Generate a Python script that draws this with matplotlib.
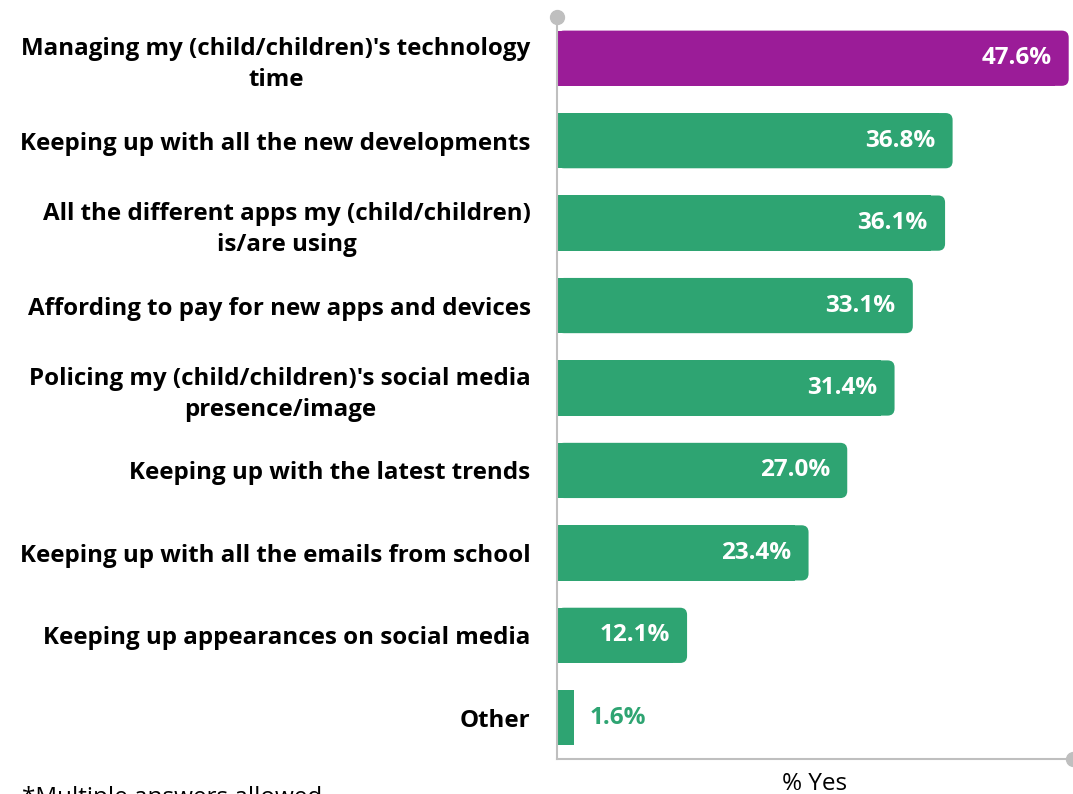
import matplotlib.pyplot as plt
from matplotlib.patches import FancyBboxPatch, Rectangle

plt.rcParams['font.family'] = ['Open Sans', 'DejaVu Sans']

categories = [
    "Managing my (child/children)'s technology\ntime",
    "Keeping up with all the new developments",
    "All the different apps my (child/children)\nis/are using",
    "Affording to pay for new apps and devices",
    "Policing my (child/children)'s social media\npresence/image",
    "Keeping up with the latest trends",
    "Keeping up with all the emails from school",
    "Keeping up appearances on social media",
    "Other",
]
values = [47.6, 36.8, 36.1, 33.1, 31.4, 27.0, 23.4, 12.1, 1.6]
colors = ["#9B1C98"] + ["#2EA472"] * 8

fig = plt.figure(figsize=(10.73, 7.94), dpi=100)
ax = fig.add_axes([557 / 1073, 35 / 794, 516 / 1073, 742 / 794])
ax.set_xlim(0, 48)
ax.set_ylim(8.5, -0.5)

bar_h = 0.67
x_per_px = 48 / 516
y_per_px = 9 / 742
rad = 7 * x_per_px
for i, (v, c) in enumerate(zip(values, colors)):
    # square left part + rounded right end
    ax.add_patch(Rectangle((0, i - bar_h / 2), max(v - rad * 2, 0), bar_h,
                           facecolor=c, edgecolor='none'))
    if v > rad * 3:
        ax.add_patch(FancyBboxPatch((0, i - bar_h / 2), v, bar_h,
                                    boxstyle=f"round,pad=0,rounding_size={rad}",
                                    mutation_aspect=y_per_px / x_per_px,
                                    facecolor=c, edgecolor='none'))
    else:
        ax.add_patch(Rectangle((0, i - bar_h / 2), v, bar_h,
                               facecolor=c, edgecolor='none'))
    if v > 5:
        ax.text(v - 1.6, i, f"{v:.1f}%", ha='right', va='center',
                color='white', fontsize=17.5, fontweight='bold')
    else:
        ax.text(v + 1.4, i, f"{v:.1f}%", ha='left', va='center',
                color=c, fontsize=17.5, fontweight='bold')

ax.set_yticks(range(len(categories)))
ax.set_yticklabels(categories, fontsize=17.4, fontweight='bold',
                   multialignment='center', linespacing=1.38)
ax.tick_params(axis='y', length=0, pad=19)
ax.set_xticks([])

for s in ['top', 'right']:
    ax.spines[s].set_visible(False)
for s in ['left', 'bottom']:
    ax.spines[s].set_color('#BFBFBF')
    ax.spines[s].set_linewidth(1.5)

# round end caps on the axis lines
ax.plot([0], [-0.5], 'o', color='#BFBFBF', markersize=10, clip_on=False)
ax.plot([48], [8.5], 'o', color='#BFBFBF', markersize=10, clip_on=False)

ax.set_xlabel("% Yes", fontsize=17.5, labelpad=9)

fig.text(22 / 1073, -16 / 794, "*Multiple answers allowed", fontsize=17.5,
         ha='left', va='bottom')

fig.savefig("out.png", dpi=100)
